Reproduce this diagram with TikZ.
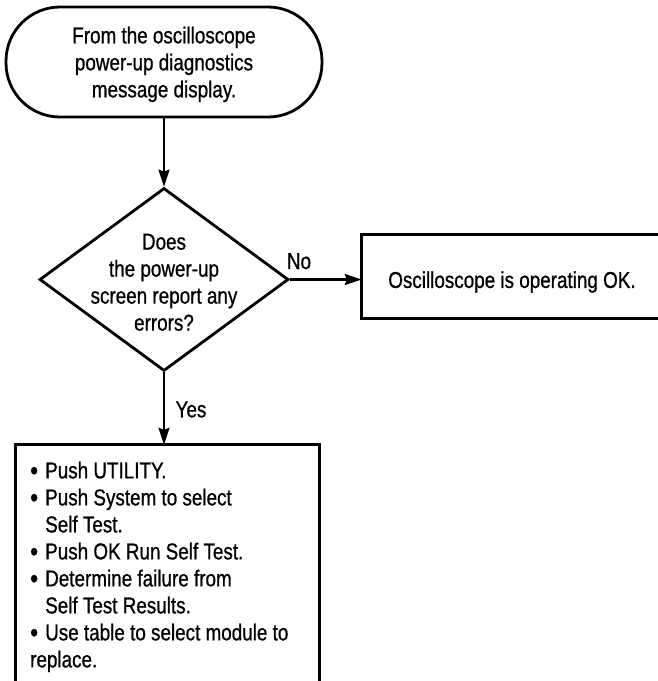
\documentclass[tikz,border=0pt]{standalone}
\usepackage{fontspec}
\setmainfont{Liberation Sans}[FakeStretch=0.82,FakeBold=0.8]
\usetikzlibrary{arrows.meta,shapes.geometric}
\newcommand{\blt}{\makebox[15pt][l]{\raisebox{-1.5pt}{\scalebox{1.2}{\textbullet}}}}
\begin{document}
\begin{tikzpicture}[x=1pt,y=-1pt,
  every node/.style={font=\fontsize{23}{27}\selectfont},
  frame/.style={line width=2.8pt},
  flow/.style={line width=2.2pt,-{Stealth[length=17pt,width=11pt,inset=2pt]}},
  txt/.style={inner sep=0pt}]
\useasboundingbox[fill=white] (0,0) rectangle (658,681);
% terminal
\node[frame,draw,rounded corners=54pt,minimum width=316pt,minimum height=110pt,
      inner sep=0pt,align=center,text depth=0pt] (start) at (164,62)
      {From the oscilloscope\\power-up diagnostics\\message display.};
% decision
\node[frame,draw,diamond,minimum width=249pt,minimum height=183pt,inner sep=0pt] (q) at (164,279.5) {};
\node[txt,align=center] (qtext) at (164,282.3) {Does\\the power-up\\screen report any\\errors?};
% right box (open on the right)
\node[minimum width=298pt,minimum height=83pt,inner sep=0pt] (ok) at (511,276.5) {};
\draw[frame] (ok.north east) -- (ok.north west) -- (ok.south west) -- (ok.south east);
\node[txt] (oktext) at (512,282) {Oscilloscope is operating OK.};
% bottom box (open at the bottom)
\node[minimum width=303pt,minimum height=240pt,inner sep=0pt] (steps) at (167.5,565) {};
\draw[frame] (steps.south west) -- (steps.north west) -- (steps.north east) -- (steps.south east);
\node[txt,anchor=north west,align=left] (stepstext) at (30,461.5)
  {\blt Push UTILITY.\\
   \blt Push System to select\\
   \hspace*{15pt}Self Test.\\
   \blt Push OK Run Self Test.\\
   \blt Determine failure from\\
   \hspace*{15pt}Self Test Results.\\
   \blt Use table to select module to\\
   replace.};
% connectors
\draw[flow] (start.south) -- (q.north);
\draw[flow] (q.east) -- (q.east -| ok.west);
\draw[flow] (q.south) -- (q.south |- steps.north);
\node[txt,anchor=base] (no) at (299,269) {No};
\node[txt,anchor=base] (yes) at (191,417.3) {Yes};
\end{tikzpicture}
\end{document}
